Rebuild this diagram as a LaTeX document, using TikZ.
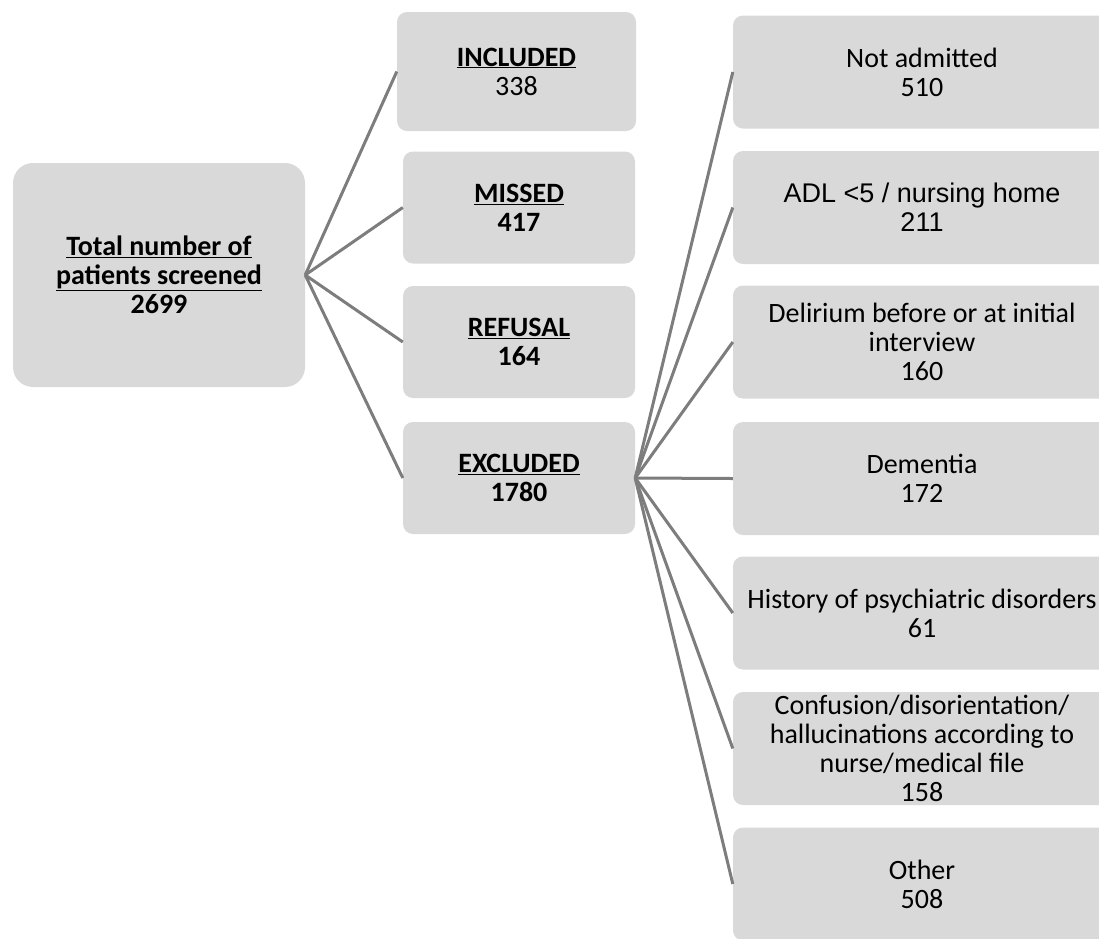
\documentclass[tikz,border=0pt]{standalone}
\usepackage{fontspec}
\setmainfont{Carlito}
\newfontfamily\arialfont{Liberation Sans}
\definecolor{boxgray}{RGB}{217,217,217}
\definecolor{linegray}{RGB}{125,125,125}
\tikzset{
  box/.style={rectangle, rounded corners=10pt, fill=boxgray, draw=none, inner sep=0pt, align=center,
    font=\fontsize{28}{29}\selectfont},
  midbox/.style={box, minimum width=232pt, minimum height=112pt},
  rbox/.style={box, minimum width=378pt, minimum height=113pt},
  conn/.style={draw=linegray, line width=3pt}
}
\begin{document}
\begin{tikzpicture}[x=1pt,y=-1pt]
\useasboundingbox (0,0) rectangle (1099,938);
\clip (0,0) rectangle (1099,938);
\node[box, rounded corners=20pt, minimum width=292pt, minimum height=224pt] (total) at (159,275)
  {\bfseries\underline{Total number of}\\\bfseries\underline{patients screened}\\\bfseries 2699};
\node[box, minimum width=239pt, minimum height=119pt] (inc) at (516.5,71.5) {\bfseries\underline{INCLUDED}\\338};
\node[midbox] (mis) at (519,207.5) {\bfseries\underline{MISSED}\\\bfseries 417};
\node[midbox] (ref) at (519,342) {\bfseries\underline{REFUSAL}\\\bfseries 164};
\node[midbox] (exc) at (519,478) {\bfseries\underline{EXCLUDED}\\\bfseries 1780};
\node[rbox] (r1) at (922,72) {Not admitted\\510};
\node[rbox, font=\arialfont\fontsize{27}{29}\selectfont] (r2) at (922,207.5) {ADL <5 / nursing home\\211};
\node[rbox] (r3) at (922,342) {Delirium before or at initial\\interview\\160};
\node[rbox] (r4) at (922,478.5) {Dementia\\172};
\node[rbox] (r5) at (922,613) {History of psychiatric disorders\\61};
\node[rbox] (r6) at (922,748.5) {Confusion/disorientation/\\hallucinations according to\\nurse/medical file\\158};
\node[rbox] (r7) at (922,884) {Other\\508};
\foreach \t in {inc,mis,ref,exc} \draw[conn] (total.east) -- (\t.west);
\foreach \t in {r1,r2,r3,r4,r5,r6,r7} \draw[conn] (exc.east) -- (\t.west);
\end{tikzpicture}
\end{document}
